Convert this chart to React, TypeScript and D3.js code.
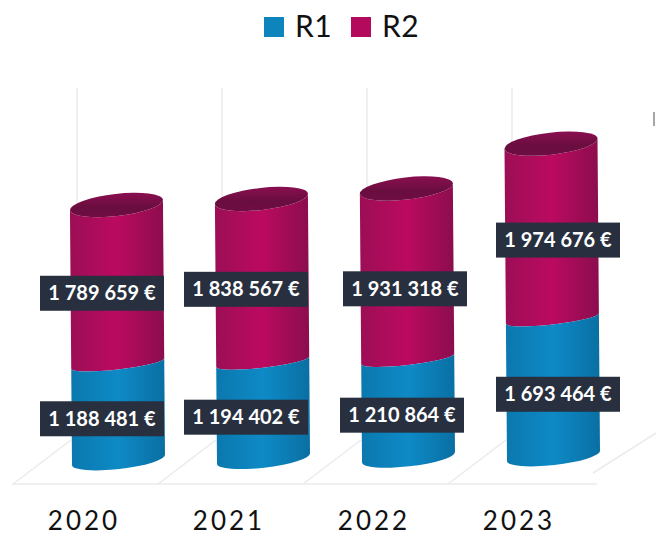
import * as d3 from "d3";

const years = ["2020", "2021", "2022", "2023"];
const seriesNames = ["R1", "R2"];
const r1Values = [1188481, 1194402, 1210864, 1693464];
const r2Values = [1789659, 1838567, 1931318, 1974676];

const euro = d3.formatLocale({ decimal: ",", thousands: " ", grouping: [3], currency: ["", " €"] }).format("$,");

export default function App() {
  const width = 656;
  const height = 536;

  const x = d3.scalePoint().domain(years).range([117, 552]);

  // the 3d view squeezes the lower part of the stack a little, so the scale has some knots
  const lift = d3.scaleLinear().domain([0, 1700000, 3000000, 3700000]).range([0, 138, 257, 315]);
  // floor of the chart tilts up slightly to the right
  const floor = d3.scaleLinear().domain([0, 3]).range([460, 456]);

  const rx = 46.5;
  const capRy = 11;
  const baseRy = 9;
  const joinRy = 6;
  const tilt = -6.5;
  const edge = rx * Math.sin((tilt * Math.PI) / 180);

  // cylinder leans a bit, base sits further right than the top
  const lean = (h: number) => 1.5 - h * 0.008;

  const left = (i: number, v: number) => [x(years[i])! + lean(lift(v)) - rx, floor(i) - lift(v) - edge];
  const right = (i: number, v: number) => [x(years[i])! + lean(lift(v)) + rx, floor(i) - lift(v) + edge];

  const arc = (to: number[], sweep: number, ry: number) => `A${rx},${ry} ${tilt} 0 ${sweep} ${to[0]},${to[1]}`;

  const segment = (i: number, v0: number, v1: number, ry0: number, ry1: number) => {
    const a = left(i, v1), b = left(i, v0), c = right(i, v0), d = right(i, v1);
    return `M${a}L${b}${arc(c, 0, ry0)}L${d}${arc(a, 1, ry1)}Z`;
  };
  const capFor = (i: number, v: number) => {
    const a = left(i, v), d = right(i, v);
    return `M${a}${arc(d, 1, capRy)}${arc(a, 1, capRy)}Z`;
  };

  // label boxes were moved by hand in the original chart
  const shiftX = [-15, -16, -5, 6];
  const shiftY = [0, 0, 6, 0];
  const boxW = 124;
  const boxH = 35;

  const floorY = 484;
  const gridX = x.domain().map((d) => x(d)! - 40);

  return (
    <svg width={width} height={height} style={{ position: "absolute", left: 0, top: 0, background: "#fff" }}>
      <defs>
        <linearGradient id="r1">
          <stop offset="0" stopColor="#0b78ae" />
          <stop offset="0.5" stopColor="#0e8ac6" />
          <stop offset="1" stopColor="#0a6fa3" />
        </linearGradient>
        <linearGradient id="r2">
          <stop offset="0" stopColor="#9c0e56" />
          <stop offset="0.5" stopColor="#bb0a60" />
          <stop offset="1" stopColor="#8b0d4e" />
        </linearGradient>
        <linearGradient id="cap" x1="0" x2="0" y1="0" y2="1">
          <stop offset="0" stopColor="#8a0f50" />
          <stop offset="0.6" stopColor="#690d3f" />
          <stop offset="1" stopColor="#6f0d42" />
        </linearGradient>
      </defs>

      {/* legend */}
      {seriesNames.map((name, i) => (
        <g key={name} transform={`translate(${264 + i * 87},17)`}>
          <rect width={20} height={20} fill={i === 0 ? "#0e84bd" : "#b30a5e"} />
          <text x={31} y={20} fontFamily="Lato" fontSize={30} letterSpacing={0.5} fill="#111">{name}</text>
        </g>
      ))}

      {/* walls and floor */}
      <g stroke="#ebebeb" strokeWidth={1.5} fill="none">
        {gridX.map((gx) => (
          <line key={gx} x1={gx} x2={gx} y1={88} y2={250} />
        ))}
        <line x1={12} x2={597} y1={floorY} y2={floorY} />
        {[...gridX, x("2023")! + 105].map((gx) => (
          <line key={gx} x1={gx - 64} x2={gx + (gx > 600 ? -1 : -6)} y1={gx > 600 ? 473 : floorY} y2={gx > 600 ? 433 : floorY - 44} />
        ))}
      </g>
      <line x1={654} x2={654} y1={112} y2={126} stroke="#8a8a8a" strokeWidth={1.5} />

      {/* cylinders */}
      {years.map((year, i) => {
        const total = r1Values[i] + r2Values[i];
        return (
          <g key={year}>
            <path d={segment(i, r1Values[i], total, joinRy, capRy)} fill="url(#r2)" />
            <path d={capFor(i, total)} fill="url(#cap)" />
            <path d={segment(i, 0, r1Values[i], baseRy, joinRy)} fill="url(#r1)" />
          </g>
        );
      })}

      {/* value labels */}
      {years.map((year, i) => {
        const total = r1Values[i] + r2Values[i];
        const rows = [
          { v: r1Values[i], y: floor(i) - lift(r1Values[i] / 2) + 7, dx: 0 },
          { v: r2Values[i], y: floor(i) - (lift(r1Values[i]) + lift(total)) / 2 + 9 + shiftY[i], dx: i === 2 ? 3 : 0 },
        ];
        return rows.map((row) => {
          const cx = x(year)! + shiftX[i] + row.dx;
          return (
            <g key={row.v}>
              <rect x={cx - boxW / 2} y={row.y - boxH / 2} width={boxW} height={boxH} fill="#28303f" />
              <text
                x={cx}
                y={row.y + 7}
                textAnchor="middle"
                fontFamily="Lato"
                fontWeight={700}
                fontSize={20}
                fill="#fff"
              >
                {euro(row.v)}
              </text>
            </g>
          );
        });
      })}

      {/* year axis */}
      {years.map((year) => (
        <text
          key={year}
          x={x(year)! - 33}
          y={530.4}
          textAnchor="middle"
          fontFamily="Lato"
          fontSize={26}
          letterSpacing={3}
          fill="#111"
        >
          {year}
        </text>
      ))}
    </svg>
  );
}
